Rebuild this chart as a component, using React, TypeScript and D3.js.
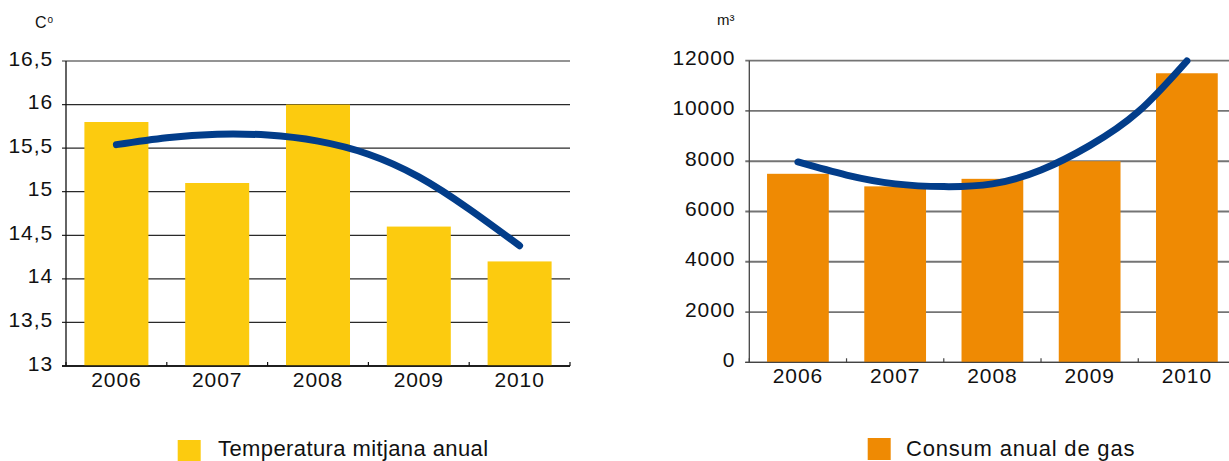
import React from "react";
import * as d3 from "d3";

const years = ["2006", "2007", "2008", "2009", "2010"];
const temperature = [15.8, 15.1, 16.0, 14.6, 14.2];
const gas = [7500, 7000, 7300, 8000, 11500];

// trend curves at half-year steps (index positions)
const trendPos = [0, 0.5, 1, 1.5, 2, 2.5, 3, 3.5, 4];
const tempTrend = [15.54, 15.62, 15.66, 15.65, 15.58, 15.43, 15.17, 14.8, 14.38];
const gasTrend = [7970, 7450, 7100, 6990, 7100, 7650, 8620, 9970, 11990];

const tempTicks = [13, 13.5, 14, 14.5, 15, 15.5, 16, 16.5];
const gasTicks = [0, 2000, 4000, 6000, 8000, 10000, 12000];

const FONT = "'Liberation Sans', Arial, Helvetica, sans-serif";
const YELLOW = "#FCCB0F";
const ORANGE = "#EF8A03";
const BLUE = "#023D8A";

type PanelProps = {
  values: number[];
  trend: number[];
  ticks: number[];
  domain: [number, number];
  x0: number;
  x1: number;
  yTop: number;
  yBottom: number;
  color: string;
  gridColor: string;
  gridWidth: number;
  axisColor: string;
  fmt: (v: number) => string;
  labelGap: number;
};

function Panel(p: PanelProps) {
  const x = d3
    .scaleBand<string>()
    .domain(years)
    .range([p.x0, p.x1])
    .paddingInner(0.365)
    .paddingOuter(0.1825);
  const y = d3.scaleLinear().domain(p.domain).range([p.yBottom, p.yTop]);
  const step = x.step();
  const c0 = (x(years[0]) as number) + x.bandwidth() / 2;
  const c1 = (x(years[years.length - 1]) as number) + x.bandwidth() / 2;
  const xi = d3.scaleLinear().domain([0, years.length - 1]).range([c0, c1]);
  const line = d3
    .line<number>()
    .x((_, i) => xi(trendPos[i]))
    .y((d) => y(d))
    .curve(d3.curveNatural);
  const bounds = d3.range(years.length + 1).map((i) => p.x0 + i * step);
  return (
    <g>
      {p.ticks.map((t) => (
        <g key={t}>
          <line
            x1={p.x0 - 4}
            x2={p.x1}
            y1={y(t)}
            y2={y(t)}
            stroke={t === p.domain[0] ? p.axisColor : p.gridColor}
            strokeWidth={t === p.domain[0] ? 1.3 : p.gridWidth}
          />
          <text
            x={p.x0 - p.labelGap}
            y={y(t)}
            dy={4.5}
            textAnchor="end"
            fontSize={21}
            letterSpacing={0.9}
            fontFamily={FONT}
            fill="#111"
          >
            {p.fmt(t)}
          </text>
        </g>
      ))}
      {years.map((yr, i) => (
        <rect
          key={yr}
          x={x(yr)}
          width={x.bandwidth()}
          y={y(p.values[i])}
          height={y(p.domain[0]) - y(p.values[i])}
          fill={p.color}
        />
      ))}
      <line x1={p.x0} x2={p.x0} y1={p.yTop} y2={p.yBottom} stroke={p.axisColor} strokeWidth={1.3} />
      <line
        x1={p.x0 - 4}
        x2={p.x1}
        y1={p.yBottom}
        y2={p.yBottom}
        stroke={p.axisColor}
        strokeWidth={1.3}
      />
      {bounds.map((b, i) => (
        <line key={i} x1={b} x2={b} y1={p.yBottom - 4} y2={p.yBottom} stroke={p.axisColor} strokeWidth={1.2} />
      ))}
      {years.map((yr) => (
        <text
          key={yr}
          x={(x(yr) as number) + x.bandwidth() / 2}
          y={p.yBottom + 21}
          textAnchor="middle"
          fontSize={21}
          letterSpacing={0.9}
          fontFamily={FONT}
          fill="#111"
        >
          {yr}
        </text>
      ))}
      <path
        d={line(p.trend) || ""}
        fill="none"
        stroke={BLUE}
        strokeWidth={7}
        strokeLinecap="round"
        strokeLinejoin="round"
      />
    </g>
  );
}

export default function App() {
  return (
    <svg
      width={1229}
      height={461}
      style={{ position: "absolute", left: 0, top: 0, background: "#fff" }}
    >
      <rect width={1229} height={461} fill="#fff" />
      <text x={35} y={28} fontSize={16} fontFamily={FONT} fill="#111">
        C
        <tspan fontSize={10} dy={-5} dx={1}>
          o
        </tspan>
      </text>
      <text x={717} y={25} fontSize={15} fontFamily={FONT} fill="#111">
        m³
      </text>
      <Panel
        values={temperature}
        trend={tempTrend}
        ticks={tempTicks}
        domain={[13, 16.5]}
        x0={66}
        x1={570}
        yTop={61}
        yBottom={366}
        color={YELLOW}
        gridColor="#2a2a2a"
        gridWidth={1.2}
        axisColor="#111"
        fmt={(v) => String(v).replace(".", ",")}
        labelGap={13}
      />
      <Panel
        values={gas}
        trend={gasTrend}
        ticks={gasTicks}
        domain={[0, 12000]}
        x0={749.3}
        x1={1235.5}
        yTop={60.7}
        yBottom={362.3}
        color={ORANGE}
        gridColor="#747474"
        gridWidth={1.8}
        axisColor="#444"
        fmt={(v) => String(v)}
        labelGap={14}
      />
      <rect x={177.7} y={440} width={23} height={21} fill={YELLOW} />
      <text x={218} y={456} fontSize={22} letterSpacing={0.4} fontFamily={FONT} fill="#111">
        Temperatura mitjana anual
      </text>
      <rect x={867.7} y={438} width={23} height={22} fill={ORANGE} />
      <text x={906} y={456} fontSize={22} letterSpacing={0.8} fontFamily={FONT} fill="#111">
        Consum anual de gas
      </text>
    </svg>
  );
}
